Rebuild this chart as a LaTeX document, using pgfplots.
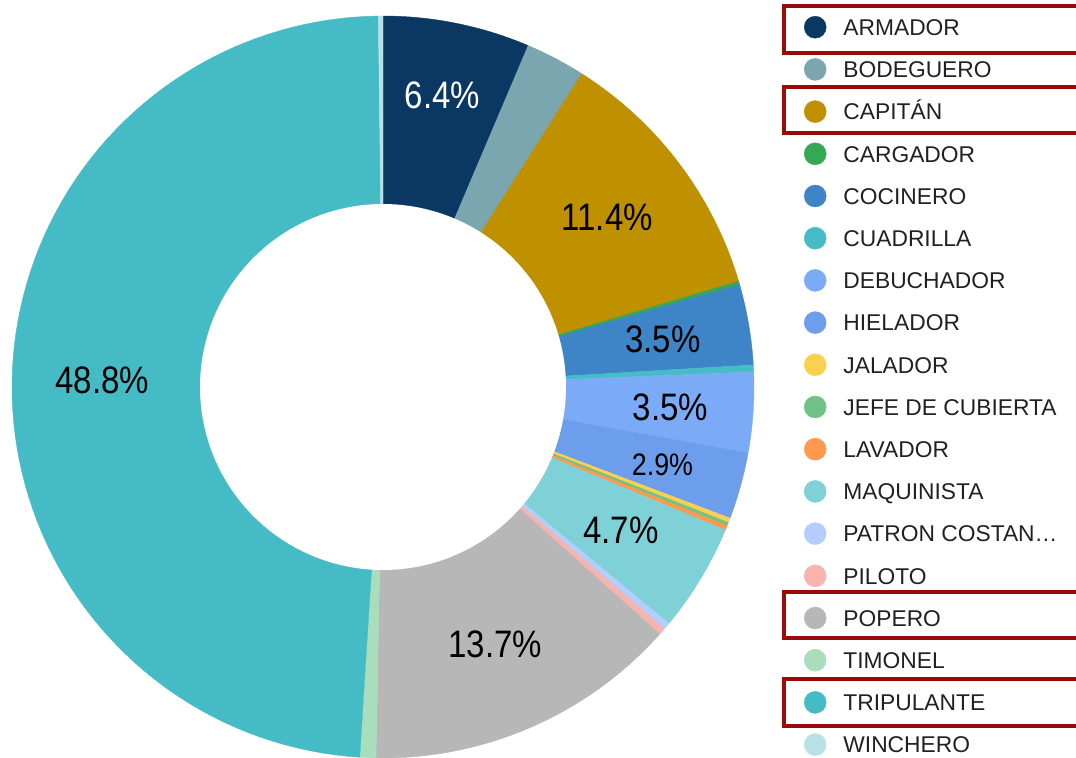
\documentclass[border=0pt]{standalone}
\usepackage{pgfplots}
\pgfplotsset{compat=1.18}
\usepackage{pgfplotstable}
\usepackage{graphicx}
\usepackage{fontspec}
\setmainfont{Liberation Sans}

\definecolor{cArm}{HTML}{0B3763}
\definecolor{cBod}{HTML}{79A6AF}
\definecolor{cCap}{HTML}{BF9000}
\definecolor{cCar}{HTML}{34A853}
\definecolor{cCoc}{HTML}{3D85C6}
\definecolor{cCua}{HTML}{46BDC6}
\definecolor{cDeb}{HTML}{7BAAF7}
\definecolor{cHie}{HTML}{6D9EEB}
\definecolor{cJal}{HTML}{FCD04F}
\definecolor{cJef}{HTML}{71C287}
\definecolor{cLav}{HTML}{FF994D}
\definecolor{cMaq}{HTML}{7ED1D7}
\definecolor{cPat}{HTML}{B3CEFB}
\definecolor{cPil}{HTML}{F7B4AE}
\definecolor{cPop}{HTML}{B7B7B7}
\definecolor{cTim}{HTML}{AADDBB}
\definecolor{cTri}{HTML}{45BBC5}
\definecolor{cWin}{HTML}{B7E1E6}
\definecolor{frame}{HTML}{9B0A0A}

% share of each role in %, clockwise from 12 o'clock
% fs = label size in pt (0: no label), lr = label radius
\pgfplotstableread[col sep=comma]{
name,value,color,fs,tc,lr
ARMADOR,6.4,cArm,16.5,white,298
BODEGUERO,2.6,cBod,0,black,0
CAPITÁN,11.4,cCap,16.5,black,281
CARGADOR,0.15,cCar,0,black,0
COCINERO,3.5,cCoc,16.5,black,284
CUADRILLA,0.3,cCua,0,black,0
DEBUCHADOR,3.5,cDeb,16.5,black,288
HIELADOR,2.9,cHie,13.4,black,290
JALADOR,0.2,cJal,0,black,0
JEFE DE CUBIERTA,0.15,cJef,0,black,0
LAVADOR,0.2,cLav,0,black,0
MAQUINISTA,4.7,cMaq,16.5,black,278
PATRON COSTAN…,0.3,cPat,0,black,0
PILOTO,0.3,cPil,0,black,0
POPERO,13.7,cPop,16.5,black,281
TIMONEL,0.7,cTim,0,black,0
TRIPULANTE,48.8,cTri,16.5,black,281
WINCHERO,0.2,cWin,0,black,0
}\slices

\begin{document}
\begin{tikzpicture}
\begin{axis}[
  x=0.5pt, y=0.5pt,
  xmin=0, xmax=1076, ymin=0, ymax=757,
  hide axis,
  legend cell align=left,
  legend image code/.code={\fill[#1] (5.5pt,0pt) circle (5.5pt);},
  legend style={at={(axis cs:804,741)}, anchor=north west, draw=none, fill=none,
    inner sep=0pt, outer sep=0pt, row sep=9.9pt, column sep=8.5pt,
    font=\fontsize{11.4}{13}\selectfont, text=black!87,
    nodes={inner sep=0pt, text height=8.2pt, text depth=0pt}},
]
\coordinate (bl) at (axis cs:0,0);
\coordinate (tr) at (axis cs:1076,757);

\pgfplotstablegetrowsof{\slices}
\pgfmathtruncatemacro\lastrow{\pgfplotsretval-1}
\gdef\cum{0}
\gdef\labelcmds{}
\pgfplotsforeachungrouped \i in {0,...,\lastrow}{%
  \pgfplotstablegetelem{\i}{value}\of\slices \let\val\pgfplotsretval
  \pgfplotstablegetelem{\i}{color}\of\slices \let\col\pgfplotsretval
  \pgfplotstablegetelem{\i}{name}\of\slices \let\nm\pgfplotsretval
  \pgfplotstablegetelem{\i}{fs}\of\slices \let\fs\pgfplotsretval
  \pgfplotstablegetelem{\i}{tc}\of\slices \let\tc\pgfplotsretval
  \pgfplotstablegetelem{\i}{lr}\of\slices \let\lr\pgfplotsretval
  \pgfmathsetmacro\sA{3.6*\cum}%
  \pgfmathsetmacro\sB{3.6*(\cum+\val)}%
  \pgfmathsetmacro\sM{(\sA+\sB)/2}%
  \pgfmathsetmacro\lx{383+\lr*sin(\sM)}%
  \pgfmathsetmacro\ly{370+\lr*cos(\sM)}%
  \pgfmathsetmacro\newcum{\cum+\val}\global\let\cum\newcum
  \edef\temp{\noexpand\addplot[fill=\col, draw=\col, line width=0.2pt,
      domain=\sA:\sB, samples=90, variable=\noexpand\t]
      ({383+371*sin(\noexpand\t)},{370+371*cos(\noexpand\t)}) -- (axis cs:383,370) -- cycle;
    \noexpand\addlegendentry{\nm}}%
  \temp
  \ifdim\fs pt>0pt
    \xdef\labelcmds{\unexpanded\expandafter{\labelcmds}%
      \noexpand\node[font=\noexpand\fontsize{\fs}{\fs}\noexpand\selectfont, text=\tc, inner sep=0pt]
      at (axis cs:\lx,\ly) {\noexpand\scalebox{1}[1.16]{\val\noexpand\%}};}%
  \fi
}

% hole of the donut
\addplot[fill=white, draw=none, domain=0:360, samples=181, forget plot]
  ({383+183*sin(x)},{370+183*cos(x)});

\labelcmds

% highlight boxes round four legend entries (cut by the right edge)
\draw[frame, line width=2pt] (axis cs:1076,751) -- (axis cs:784,751) -- (axis cs:784,704) -- (axis cs:1076,704);
\draw[frame, line width=2pt] (axis cs:1076,670) -- (axis cs:784,670) -- (axis cs:784,624) -- (axis cs:1076,624);
\draw[frame, line width=2pt] (axis cs:1076,165) -- (axis cs:784,165) -- (axis cs:784,119) -- (axis cs:1076,119);
\draw[frame, line width=2pt] (axis cs:1076,78) -- (axis cs:784,78) -- (axis cs:784,31) -- (axis cs:1076,31);
\end{axis}
\pgfresetboundingbox
\path (bl) rectangle (tr);
\end{tikzpicture}
\end{document}
